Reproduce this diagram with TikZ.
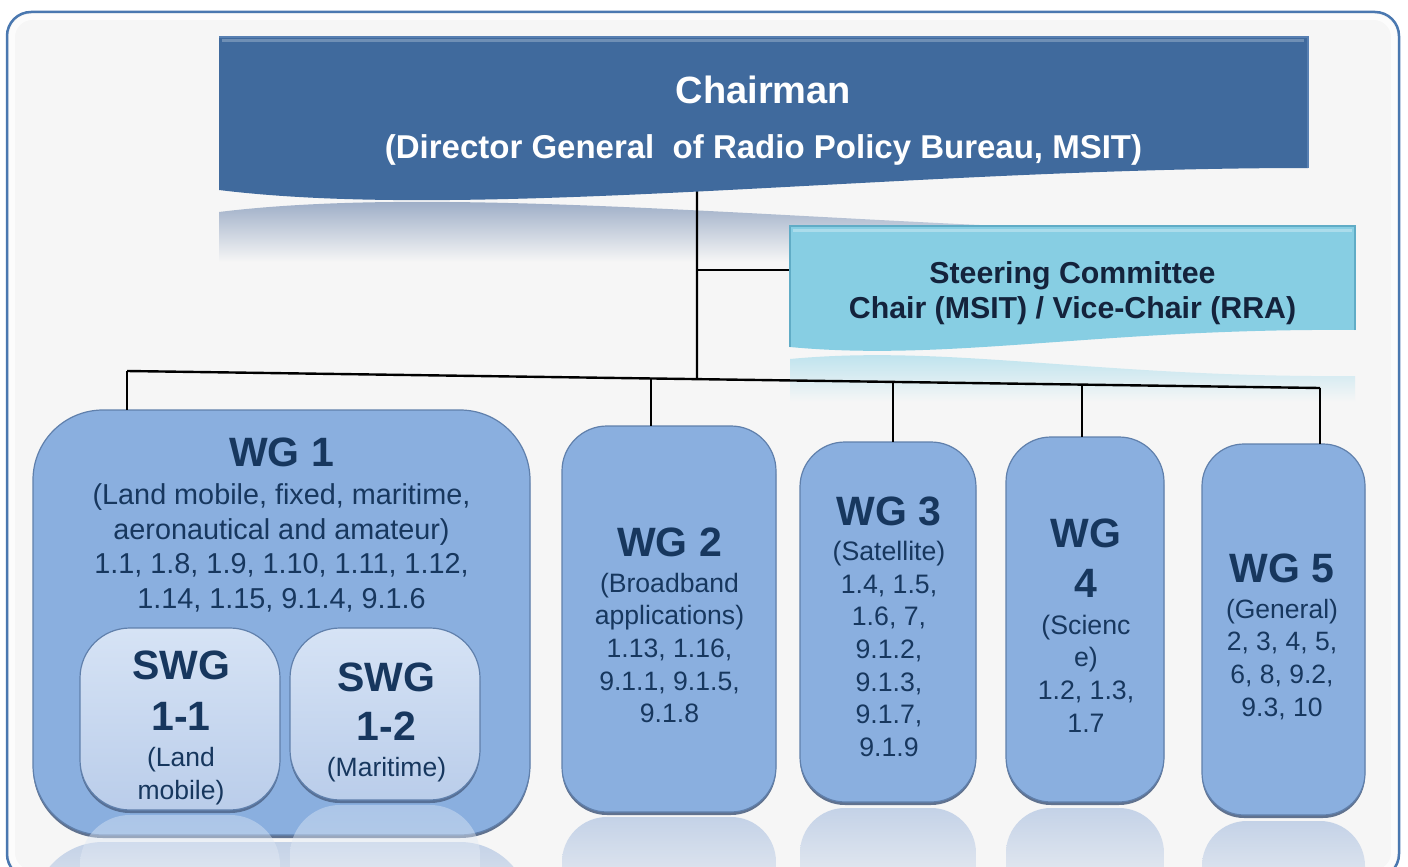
\documentclass[tikz,border=0pt]{standalone}
\usepackage{fontspec}
\setmainfont{Liberation Sans}
\usetikzlibrary{calc,shadows}

\definecolor{bgc}{RGB}{246,246,246}
\definecolor{framec}{RGB}{74,120,176}
\definecolor{chairc}{RGB}{64,106,157}
\definecolor{chairedge}{RGB}{88,128,178}
\definecolor{steerc}{RGB}{135,206,227}
\definecolor{steeredge}{RGB}{96,172,198}
\definecolor{wgc}{RGB}{138,175,223}
\definecolor{wgedge}{RGB}{96,128,172}
\definecolor{wgshadow}{RGB}{70,92,126}
\definecolor{swgtop}{RGB}{214,227,245}
\definecolor{swgbot}{RGB}{186,205,234}
\definecolor{navy}{RGB}{23,55,94}
\definecolor{steertxt}{RGB}{20,35,60}
\definecolor{reflc}{RGB}{196,210,231}
\definecolor{chairrefl}{RGB}{148,166,194}
\definecolor{steerrefl}{RGB}{178,223,236}

\newcommand\hdr{\fontsize{41}{50}\selectfont\bfseries}

\tikzset{
  conn/.style={draw=black, line width=2.4pt},
  frame/.style={draw=framec, line width=2.5pt, fill=bgc, rounded corners=24pt},
  wgbox/.style={draw=wgedge, line width=1.2pt, fill=wgc, inner sep=0pt, outer sep=0pt,
    drop shadow={shadow xshift=0pt, shadow yshift=-3pt, fill=wgshadow, opacity=0.85}},
  swgbox/.style={draw=wgedge, line width=1.2pt, top color=swgtop, bottom color=swgbot,
    inner sep=0pt, outer sep=0pt, rounded corners=50pt,
    drop shadow={shadow xshift=0pt, shadow yshift=-3pt, fill=wgshadow, opacity=0.75}},
  wgtxt/.style={inner sep=0pt, align=center, text=navy, anchor=north},
  chairtxt/.style={inner sep=0pt, align=center, text=white, anchor=north,
    font=\fontsize{33}{33}\selectfont\bfseries},
  steertxt/.style={inner sep=0pt, align=center, text=steertxt, anchor=north,
    font=\fontsize{30.3}{35}\selectfont\bfseries},
}

\begin{document}
\begin{tikzpicture}[x=1pt,y=-1pt]
\useasboundingbox (0,0) rectangle (1408,867);
\fill[white] (0,0) rectangle (1408,867);

% outer frame
\draw[frame] (7,12) rectangle (1399,878);
\draw[white, line width=6pt, rounded corners=20pt, opacity=0.7] (12,17) rectangle (1394,873);

% reflections of chairman and steering committee
\begin{scope}
  \clip (219,212) .. controls (480,180) and (900,234) .. (1308,234) -- (1308,365) -- (219,365) -- cycle;
  \shade[top color=chairrefl, bottom color=bgc] (219,195) rectangle (1308,262);
\end{scope}
\begin{scope}
  \clip (790,359) .. controls (950,344) and (1100,378) .. (1355,376) -- (1355,420) -- (790,420) -- cycle;
  \shade[top color=steerrefl, bottom color=bgc] (790,344) rectangle (1355,402);
\end{scope}

% reflections of the working-group boxes
\begin{scope}
  \clip[rounded corners=70pt] (33,842) rectangle (530,1100);
  \shade[top color=reflc, bottom color=bgc] (33,842) rectangle (530,950);
\end{scope}
\begin{scope}
  \clip[rounded corners=45pt] (562,817) rectangle (776,1100);
  \shade[top color=reflc, bottom color=bgc] (562,817) rectangle (776,930);
\end{scope}
\begin{scope}
  \clip[rounded corners=45pt] (800,808) rectangle (976,1100);
  \shade[top color=reflc, bottom color=bgc] (800,808) rectangle (976,920);
\end{scope}
\begin{scope}
  \clip[rounded corners=45pt] (1006,808) rectangle (1164,1100);
  \shade[top color=reflc, bottom color=bgc] (1006,808) rectangle (1164,920);
\end{scope}
\begin{scope}
  \clip[rounded corners=45pt] (1202,821) rectangle (1365,1100);
  \shade[top color=reflc, bottom color=bgc] (1202,821) rectangle (1365,930);
\end{scope}

% bus and tap coordinates
\coordinate (busL) at (127,371);
\coordinate (busR) at (1320,388);
\coordinate (tc) at ($(busL)!0.4778!(busR)$);
\coordinate (t2) at ($(busL)!0.4392!(busR)$);
\coordinate (t3) at ($(busL)!0.6421!(busR)$);
\coordinate (t4) at ($(busL)!0.8005!(busR)$);
\coordinate (chairbot) at (697,191);
\coordinate (br) at (697,270);
\coordinate (steerW) at (790,270);

% working group boxes
\node[wgbox, rounded corners=70pt, minimum width=497pt, minimum height=425pt] (wg1) at (281.5,622.5) {};
\node[wgbox, rounded corners=45pt, minimum width=214pt, minimum height=386pt] (wg2) at (669,619) {};
\node[wgbox, rounded corners=45pt, minimum width=176pt, minimum height=360pt] (wg3) at (888,622) {};
\node[wgbox, rounded corners=45pt, minimum width=158pt, minimum height=365pt] (wg4) at (1085,619.5) {};
\node[wgbox, rounded corners=42pt, minimum width=163pt, minimum height=371pt] (wg5) at (1283.5,629.5) {};

% connectors
\draw[conn] (busL) -- (busR);
\draw[conn] (chairbot) -- (tc);
\draw[conn] (br) -- (steerW);
\draw[conn] (busL) -- (busL |- wg1.north);
\draw[conn] (t2) -- (t2 |- wg2.north);
\draw[conn] (t3) -- (t3 |- wg3.north);
\draw[conn] (t4) -- (t4 |- wg4.north);
\draw[conn] (busR) -- (busR |- wg5.north);

% sub working groups
\node[swgbox, minimum width=200pt, minimum height=182pt] (swg1) at (180,719) {};
\node[swgbox, minimum width=190pt, minimum height=172pt] (swg2) at (385,714) {};
\begin{scope}[opacity=0.45]
  \begin{scope}
    \clip[rounded corners=50pt] (80,815) rectangle (280,1000);
    \shade[top color=swgtop, bottom color=bgc] (80,815) rectangle (280,900);
  \end{scope}
  \begin{scope}
    \clip[rounded corners=50pt] (290,805) rectangle (480,1000);
    \shade[top color=swgtop, bottom color=bgc] (290,805) rectangle (480,890);
  \end{scope}
\end{scope}

% chairman shape
\fill[chairc] (219,37) -- (1308,37) -- (1308,168) .. controls (900,168) and (480,222) .. (219,190) -- cycle;
\draw[chairedge, line width=1.5pt] (219,37) -- (1308,37) -- (1308,168);
\draw[white, opacity=0.25, line width=3pt] (222,41) -- (1304,41);
\node[chairtxt] (chair) at (763.5,75.6) {{\fontsize{38}{38}\selectfont Chairman}\\[22.2pt]
(Director General\ \ of Radio Policy Bureau, MSIT)};

% steering committee shape
\fill[steerc] (790,226) -- (1355,226) -- (1355,330) .. controls (1100,328) and (950,362) .. (790,347) -- cycle;
\draw[steeredge, line width=1.5pt] (790,347) -- (790,226) -- (1355,226) -- (1355,330);
\draw[white, opacity=0.3, line width=3pt] (793,230) -- (1352,230);
\node[steertxt] (steer) at (1072.5,261.5) {Steering Committee\\Chair (MSIT) / Vice-Chair (RRA)};

% texts of the working groups
\node[wgtxt, font=\fontsize{28.8}{34.7}\selectfont] (wg1t) at (281.5,437.3)
 {{\hdr WG 1}\\[3.5pt](Land mobile, fixed, maritime,\\aeronautical and amateur)\\1.1, 1.8, 1.9, 1.10, 1.11, 1.12,\\1.14, 1.15, 9.1.4, 9.1.6};
\node[wgtxt, font=\fontsize{26.6}{32.6}\selectfont] (wg2t) at (669.5,527.3)
 {{\hdr WG 2}\\[3.5pt](Broadband\\applications)\\1.13, 1.16,\\9.1.1, 9.1.5,\\9.1.8};
\node[wgtxt, font=\fontsize{26.7}{32.6}\selectfont] (wg3t) at (889,496.3)
 {{\hdr WG 3}\\[3pt](Satellite)\\1.4, 1.5,\\1.6, 7,\\9.1.2,\\9.1.3,\\9.1.7,\\9.1.9};
\node[wgtxt, font=\fontsize{26.7}{32.6}\selectfont] (wg4t) at (1086,518.3)
 {{\hdr WG}\\[17.4pt]{\hdr 4}\\[4.5pt](Scienc\\e)\\1.2, 1.3,\\1.7};
\node[wgtxt, font=\fontsize{26.5}{32.6}\selectfont] (wg5t) at (1282,553.3)
 {{\hdr WG 5}\\[3.5pt](General)\\2, 3, 4, 5,\\6, 8, 9.2,\\9.3, 10};
\node[wgtxt, font=\fontsize{26.5}{33}\selectfont] (swg1t) at (181,650.5)
 {{\hdr SWG}\\[18pt]{\hdr 1-1}\\[3.5pt](Land\\mobile)};
\node[wgtxt, font=\fontsize{26.5}{33}\selectfont] (swg2t) at (386.5,662.5)
 {{\hdr SWG}\\[16pt]{\hdr 1-2}\\[3.5pt](Maritime)};
\end{tikzpicture}
\end{document}
